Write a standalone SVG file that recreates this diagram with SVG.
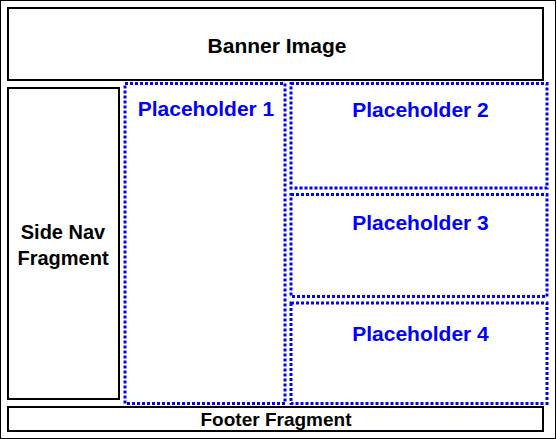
<svg xmlns="http://www.w3.org/2000/svg" width="557" height="439" viewBox="0 0 557 439">
<style>
.box{fill:#fff;stroke:#000;stroke-width:2}
.ph{fill:none;stroke:#0000ff;stroke-width:3;stroke-dasharray:3 2}
.t{font-family:"Liberation Sans",Arial,sans-serif;font-weight:bold;text-anchor:middle;fill:#000}
.tp{font-family:"Liberation Sans",Arial,sans-serif;font-weight:bold;text-anchor:middle;fill:#0000ff;font-size:21px}
</style>
<rect x="0" y="0" width="557" height="439" fill="#fff"/>
<rect x="0.5" y="0.5" width="555" height="438" fill="none" stroke="#000" stroke-width="1"/>
<g id="banner">
<rect class="box" x="8" y="8" width="535" height="72"/>
<text class="t" x="277" y="53" font-size="21">Banner Image</text>
</g>
<g id="sidenav">
<rect class="box" x="8" y="88" width="111" height="311"/>
<text class="t" x="63" y="239" font-size="20">Side Nav</text>
<text class="t" x="63" y="265" font-size="20">Fragment</text>
</g>
<g id="placeholder1">
<rect class="ph" x="125" y="83.5" width="160" height="320"/>
<text class="tp" x="206" y="116">Placeholder 1</text>
</g>
<g id="placeholder2">
<rect class="ph" x="291" y="83.5" width="256" height="104.5"/>
<text class="tp" x="420.5" y="117">Placeholder 2</text>
</g>
<g id="placeholder3">
<rect class="ph" x="291" y="194.5" width="256" height="102"/>
<text class="tp" x="420.5" y="230">Placeholder 3</text>
</g>
<g id="placeholder4">
<rect class="ph" x="291" y="303" width="256" height="100.5"/>
<text class="tp" x="420.5" y="341">Placeholder 4</text>
</g>
<g id="footer">
<rect class="box" x="8" y="407" width="535" height="24"/>
<text class="t" x="276" y="426" font-size="19">Footer Fragment</text>
</g>
<g id="connectors"/>
</svg>
